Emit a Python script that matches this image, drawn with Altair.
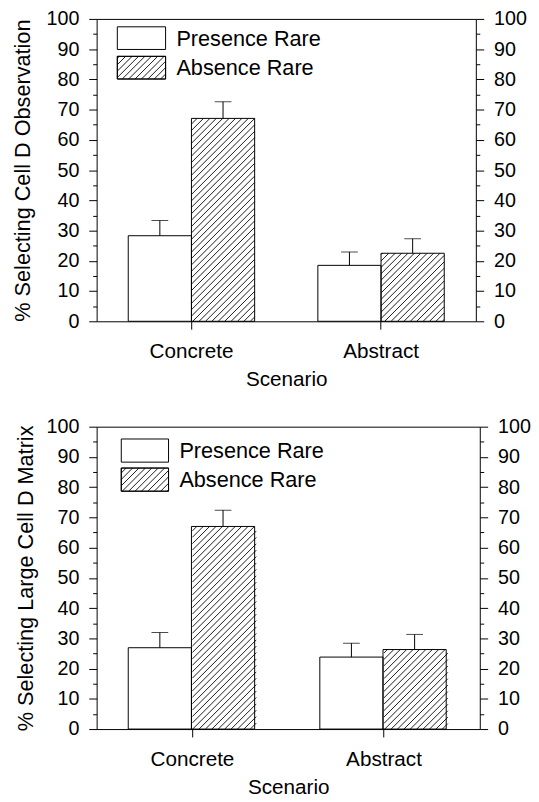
import math
import altair as alt
import pandas as pd

# ---------------- data ----------------
scenarios = ["Concrete", "Abstract"]
series = ["Presence Rare", "Absence Rare"]

top_presence = [28.3, 18.5]
top_presence_err = [5.0, 4.4]
top_absence = [67.1, 22.5]
top_absence_err = [5.5, 4.8]

bot_presence = [26.9, 23.8]
bot_presence_err = [5.0, 4.6]
bot_absence = [67.0, 26.3]
bot_absence_err = [5.4, 5.0]

top_ytitle = "% Selecting Cell D Observation"
bot_ytitle = "% Selecting Large Cell D Matrix"
x_title = "Scenario"
y_ticks = list(range(0, 101, 10))
y_minor = list(range(5, 100, 10))

FONT = "Liberation Sans"
H = 307
HATCH_STEP = 6.5


def hatch_segments(x0, x1, h, step):
    """45-degree '/' hatch lines clipped to box [x0,x1] x [0,h] (pixels, y up)."""
    segs = []
    k = math.ceil((x0 - h) / step)
    while k * step < x1:
        c = k * step
        xa = max(x0, c)
        xb = min(x1, c + h)
        if xb - xa > 0.3:
            segs.append((xa, xa - c, xb, xb - c))
        k += 1
    return segs


def panel(presence, presence_err, absence, absence_err, ytitle, W, leg, tpad):
    rows = []
    for i, sc in enumerate(scenarios):
        rows.append(dict(scenario=sc, series=series[0], value=presence[i],
                         top=presence[i] + presence_err[i]))
        rows.append(dict(scenario=sc, series=series[1], value=absence[i],
                         top=absence[i] + absence_err[i]))
    df = pd.DataFrame(rows)

    # hatch lines for the "Absence Rare" bars, expressed in data units
    band = W / len(scenarios)
    pyu = H / 100.0
    hrows = []
    for i, sc in enumerate(scenarios):
        v = absence[i]
        x0 = (i + 0.5) * band
        x1 = (i + 5.0 / 6.0) * band
        for (xa, ya, xb, yb) in hatch_segments(x0, x1, v * pyu, HATCH_STEP):
            hrows.append(dict(x=xa / band, y=ya / pyu, x2=xb / band, y2=yb / pyu))
    hdf = pd.DataFrame(hrows)

    xscale = alt.Scale(domain=scenarios, paddingInner=0, paddingOuter=0)
    oscale = alt.Scale(domain=series, paddingInner=0, paddingOuter=0.5)
    yscale = alt.Scale(domain=[0, 100], nice=False, zero=True)

    x_axis = alt.Axis(title=x_title, labelAngle=0, tickSize=8, labelPadding=12,
                      titlePadding=7, labelFontSize=21, titleFontSize=21,
                      domain=False, bandPosition=0.5, grid=False)
    left_major = alt.Axis(orient="left", values=y_ticks, tickSize=8, labelPadding=10,
                          title=ytitle, titlePadding=tpad, titleFontSize=22,
                          grid=False, domain=False)
    left_minor = alt.Axis(orient="left", values=y_minor, tickSize=4, labels=False,
                          title=None, grid=False, domain=False)
    right_major = alt.Axis(orient="right", values=y_ticks, tickSize=8, labelPadding=10,
                           title=None, grid=False, domain=False)
    right_minor = alt.Axis(orient="right", values=y_minor, tickSize=4, labels=False,
                           title=None, grid=False, domain=False)

    base = alt.Chart(df)
    bars = base.mark_bar(stroke="black", strokeWidth=1).encode(
        x=alt.X("scenario:N", sort=scenarios, scale=xscale, axis=x_axis),
        xOffset=alt.XOffset("series:N", sort=series, scale=oscale),
        y=alt.Y("value:Q", scale=yscale, axis=left_major),
        fill=alt.Fill("series:N", scale=alt.Scale(domain=series, range=["white", "transparent"]),
                      legend=None),
    )
    hatch = alt.Chart(hdf).mark_rule(color="black", strokeWidth=0.9).encode(
        x=alt.X("x:Q", scale=alt.Scale(domain=[0, len(scenarios)], nice=False, zero=False), axis=None),
        x2="x2:Q",
        y=alt.Y("y:Q", scale=yscale, axis=left_minor),
        y2="y2:Q",
    )
    err = base.mark_rule(color="black", strokeWidth=1).encode(
        x=alt.X("scenario:N", sort=scenarios, scale=xscale, axis=None),
        xOffset=alt.XOffset("series:N", sort=series, scale=oscale),
        y=alt.Y("value:Q", scale=yscale, axis=right_major),
        y2="top:Q",
    )
    cap = base.mark_tick(color="black", orient="horizontal", size=17, thickness=1).encode(
        x=alt.X("scenario:N", sort=scenarios, scale=xscale, axis=None),
        xOffset=alt.XOffset("series:N", sort=series, scale=oscale),
        y=alt.Y("top:Q", scale=yscale, axis=right_minor),
    )

    # legend drawn by hand (pixel positions relative to the plot area)
    lx0, lx1, y1a, y1b, y2a, y2b, tx, ty1, ty2 = leg
    one = pd.DataFrame({"k": [0]})
    box1 = alt.Chart(one).mark_rect(fill="white", stroke="black", strokeWidth=1).encode(
        x=alt.value(lx0), x2=alt.value(lx1), y=alt.value(y1a), y2=alt.value(y1b))
    box2 = alt.Chart(one).mark_rect(fill="white", stroke="black", strokeWidth=1).encode(
        x=alt.value(lx0), x2=alt.value(lx1), y=alt.value(y2a), y2=alt.value(y2b))
    lrows = []
    for (xa, ya, xb, yb) in hatch_segments(lx0, lx1, y2b - y2a, HATCH_STEP):
        lrows.append(dict(px=xa, py=y2b - ya, px2=xb, py2=y2b - yb))
    lhatch = alt.Chart(pd.DataFrame(lrows)).mark_rule(color="black", strokeWidth=0.9).encode(
        x=alt.X("px:Q", scale=None), x2="px2:Q",
        y=alt.Y("py:Q", scale=None), y2="py2:Q")
    box2b = alt.Chart(one).mark_rect(fill="transparent", stroke="black", strokeWidth=1).encode(
        x=alt.value(lx0), x2=alt.value(lx1), y=alt.value(y2a), y2=alt.value(y2b))
    t1 = alt.Chart(one).mark_text(align="left", baseline="middle", fontSize=22, font=FONT,
                                  color="black").encode(
        x=alt.value(tx), y=alt.value(ty1), text=alt.value(series[0]))
    t2 = alt.Chart(one).mark_text(align="left", baseline="middle", fontSize=22, font=FONT,
                                  color="black").encode(
        x=alt.value(tx), y=alt.value(ty2), text=alt.value(series[1]))

    return alt.layer(bars, hatch, err, cap, box1, box2, lhatch, box2b, t1, t2).resolve_scale(
        x="independent", y="shared").resolve_axis(x="independent", y="independent").properties(
        width=W, height=H)


top = panel(top_presence, top_presence_err, top_absence, top_absence_err, top_ytitle, 385,
            (21, 70, 8, 31, 38, 61, 81, 20, 50), 12)
bottom = panel(bot_presence, bot_presence_err, bot_absence, bot_absence_err, bot_ytitle, 389,
               (25, 73, 12.5, 36, 42, 65.5, 84, 24.5, 54), 9)

chart = alt.vconcat(top, bottom, spacing=26).properties(
    padding={"left": 3, "top": -6, "right": 0, "bottom": 0}
).configure_view(stroke="black", strokeWidth=1).configure_axis(
    labelFont=FONT, titleFont=FONT, labelFontSize=20, titleFontSize=21,
    labelColor="black", titleColor="black", tickColor="black", domainColor="black",
    titleFontWeight="normal", tickWidth=1,
)

chart.save("out.html", embed_options={"renderer": "svg", "actions": False})
